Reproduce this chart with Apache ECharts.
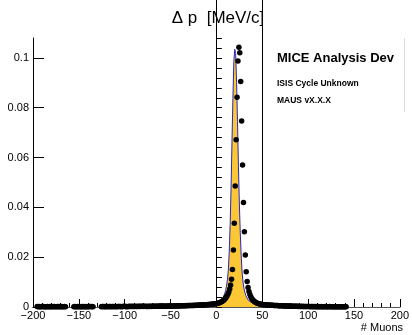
<!DOCTYPE html>
<html><head><meta charset="utf-8">
<script src="https://cdn.jsdelivr.net/npm/echarts@6/dist/echarts.min.js"></script>
<style>html,body{margin:0;padding:0;background:#fff}#c{width:412px;height:335px}</style>
</head><body><div id="c"></div>
<script>
// ---- data ----
const xMin = -200, xMax = 200, xMajor = 50;
const yMin = 0, yMax = 0.108, yMajor = 0.02, yMinor = 0.004;
const cutLines = [0, 50];
const titleText = 'Δ p  [MeV/c]';
const xTitle = '# Muons';
const infoLines = ['MICE Analysis Dev', 'ISIS Cycle Unknown', 'MAUS vX.X.X'];

// black markers: bin centres start at dotsLeftStart, 1 unit apart
const dotsLeftStart = -195.5;
const dotsLeft = [
 .0002,.0001,.0002,.0001,.0001,.0002,.0001,.0002,.0001,.0001,
 .0001,.0002,.0001,.0001,.0002,.0001,.0001,.0002,.0001,.0002,
 .0001,.0001,.0002,.0001,.0002,.0001,.0001,.0002,.0001,.0001,
 .0002,.0001,null,null,null,null,null,null,null,null,
 .0001,.0002,.0001,.0001,.0002,.0001,.0002,.0001,.0001,.0002,
 .0001,.0002,.0001,.0001,.0002,.0001,.0001,.0002,.0002,.0001,
 .0002,.0001,null,null,null,null,null,null,null,null,
 .0001,.0002,.0002,.0001,.0002,.0001,.0002,.0002,.0001,.0002,
 .0002,.0001,.0002,.0002,.0001,.0002,.0002,.0001,.0002,.0002,
 .0002,.0002,.0001,.0002,.0002,.0003,.0002,.0002,.0001,.0002,
 .0002,.0003,.0002,.0002,.0003,.0002,.0002,.0003,.0002,.0002,
 .0003,.0002,.0003,.0002,.0003,.0003,.0002,.0003,.0003,.0002,
 .0002,.0003,.0002,.0003,.0003,.0002,.0003,.0003,.0003,.0003,
 .0003,.0003,.0003,.0004,.0003,.0003,.0004,.0003,.0004,.0003,
 .0003,.0004,.0003,.0004,.0004,.0004,.0003,.0004,.0004,.0004,
 .0004,.0004,.0005,.0004,.0004,.0005,.0004,.0005,.0005,.0005,
 .0005,.0005,.0005,.0006,.0005,.0006,.0006,.0006,.0006,.0006,
 .0006,.0007,.0006,.0007,.0007,.0007,.0007,.0008,.0008,.0008,
 .0008,.0008,.0009,.0009,.0009,.0009,.0010,.0010,.0010,.0011,
 .0011,.0011,.0012,.0012,.0013,.0013
];
const dotsPeakStart = 0.5;
const dotsPeak = [
 .0014,.0015,.0016,.0017,.0019,.0021,.0023,.0026,.0029,.0033,
 .0038,.0044,.0051,.0060,.0072,.0088,.0111,.0151,.0229,.0336,
 .0486,.0671,.0842,.0988,.1043,.1021,.0905,.0747,.0570,.0420,
 .0302,.0209,.0142,.0102,.0078,.0062,.0050,.0041,.0034,.0029,
 .0025,.0022,.0019,.0017,.0015,.0014,.0013,.0012,.0011,.0010
];
const dotsRightStart = 50.5;
const dotsRight = [
 .0010,.0009,.0009,.0009,.0008,.0008,.0008,.0008,.0007,.0007,
 .0007,.0007,.0006,.0006,.0006,.0006,.0006,.0005,.0005,.0005,
 .0005,.0005,.0005,.0004,.0004,.0004,.0004,.0004,.0004,.0004,
 .0003,.0004,.0003,.0003,.0003,.0003,.0003,.0003,.0003,.0002,
 .0003,.0002,.0002,.0003,.0002,.0002,.0002,.0002,.0002,.0002,
 .0002,.0002,.0001,.0002,.0002,.0001,.0002,.0001,.0002,.0001,
 .0001,.0002,.0001,.0001,.0002,.0001,.0001,.0001,.0002,.0001,
 .0001,.0001,.0001,.0002,.0001,.0001,.0001,.0001,.0001,.0001,
 .0001,.0001,.0001,.0001,.0001,.0001,.0001,.0001,.0001,.0001,
 .0001,.0001
];

// filled histogram: bin lower edges start at histStart, width histWidth
const histStart = -10, histWidth = 1;
const histValues = [
 .0006,.0007,.0007,.0008,.0008,.0009,.0009,.0010,.0010,.0011,
 .0012,.0014,.0016,.0019,.0022,.0026,.0030,.0036,.0043,.0053,
 .0066,.0084,.0109,.0148,.0225,.0332,.0482,.0668,.0838,.0985,
 .1035,.1018,.0902,.0745,.0568,.0418,.0300,.0207,.0140,.0100,
 .0075,.0059,.0047,.0039,.0032,.0027,.0023,.0020,.0017,.0015,
 .0013,.0012,.0011,.0010,.0009,.0008,.0008,.0007,.0007,.0006,
 .0006,.0006,.0005,.0005,.0005,.0004,.0004,.0004,.0004,.0003
];

// ---- build ----
function toPoints(start, vals) {
  const out = [];
  vals.forEach((v, i) => { if (v !== null) out.push([start + i, v]); });
  return out;
}
const dotData = [].concat(
  toPoints(dotsLeftStart, dotsLeft),
  toPoints(dotsPeakStart, dotsPeak),
  toPoints(dotsRightStart, dotsRight)
);
const histData = histValues.map((v, i) => [histStart + i * histWidth, v]);
histData.push([histStart + histValues.length * histWidth, histValues[histValues.length - 1]]);

const FONT = 'Liberation Sans, Arial, Helvetica, sans-serif';
const chart = echarts.init(document.getElementById('c'), null, {renderer: 'canvas'});
const gridL = 33, gridT = 38, gridW = 370, gridH = 269;
chart.setOption({
  animation: false,
  backgroundColor: '#fff',
  grid: {left: gridL, top: gridT, width: gridW, height: gridH},
  xAxis: [{
    type: 'value', min: xMin, max: xMax, interval: xMajor,
    axisLine: {show: true, onZero: false, lineStyle: {color: '#000', width: 1}},
    axisTick: {show: true, inside: true, length: 8, lineStyle: {color: '#000'}},
    minorTick: {show: true, splitNumber: 5, length: 4, lineStyle: {color: '#000'}},
    splitLine: {show: false},
    axisLabel: {color: '#000', fontFamily: FONT, fontSize: 11, margin: 3,
      formatter: v => String(v).replace('-', '\u2212')}
  }, {
    type: 'value', position: 'top', min: xMin, max: xMax,
    axisLine: {show: true, lineStyle: {color: '#555', width: 1}},
    axisTick: {show: false}, axisLabel: {show: false}, splitLine: {show: false}
  }],
  yAxis: [{
    type: 'value', min: yMin, max: yMax, interval: yMajor,
    axisLine: {show: true, onZero: false, lineStyle: {color: '#000', width: 1}},
    axisTick: {show: true, inside: true, length: 11, lineStyle: {color: '#000'}},
    splitLine: {show: false},
    axisLabel: {color: '#000', fontFamily: FONT, fontSize: 11, margin: 4, showMaxLabel: false}
  }, {
    type: 'value', position: 'left', min: yMin, max: yMax, interval: yMinor,
    axisLine: {show: false},
    axisTick: {show: true, inside: true, length: 5.5, lineStyle: {color: '#000'}},
    splitLine: {show: false}, axisLabel: {show: false}
  }],
  series: [{
    type: 'line', step: 'end', data: histData, symbol: 'none',
    lineStyle: {color: '#2626c4', width: 1},
    areaStyle: {color: '#fcc734', opacity: 1},
    z: 2
  }, {
    type: 'scatter', data: dotData, symbol: 'circle', symbolSize: 5.5,
    itemStyle: {color: '#000', opacity: 1}, clip: false, z: 3
  }]
});

const yBottom = chart.convertToPixel({yAxisIndex: 0}, yMin);
const graphics = cutLines.map(c => {
  const px = Math.round(chart.convertToPixel({xAxisIndex: 0}, c)) + 0.5;
  return {type: 'line', z: 10, shape: {x1: px, y1: 0, x2: px, y2: yBottom},
    style: {stroke: '#000', lineWidth: 1}};
});
graphics.push(
  {type: 'line', z: 9, shape: {x1: 404.5, y1: gridT, x2: 404.5, y2: 112}, style: {stroke: '#ddd', lineWidth: 1}},
  {type: 'text', z: 11, x: 218, y: 18, style: {text: titleText, font: '17px ' + FONT, fill: '#000', align: 'center', verticalAlign: 'middle'}},
  {type: 'text', z: 11, x: 403, y: 328, style: {text: xTitle, font: '11px ' + FONT, fill: '#000', align: 'right', verticalAlign: 'middle'}},
  {type: 'text', z: 11, x: 277, y: 58, style: {text: infoLines[0], font: 'bold 13px ' + FONT, fill: '#000', align: 'left', verticalAlign: 'middle'}},
  {type: 'text', z: 11, x: 277, y: 83.5, style: {text: infoLines[1], font: 'bold 8.5px ' + FONT, fill: '#000', align: 'left', verticalAlign: 'middle'}},
  {type: 'text', z: 11, x: 277, y: 101, style: {text: infoLines[2], font: 'bold 8.5px ' + FONT, fill: '#000', align: 'left', verticalAlign: 'middle'}}
);
chart.setOption({graphic: graphics});
</script>
</body></html>
